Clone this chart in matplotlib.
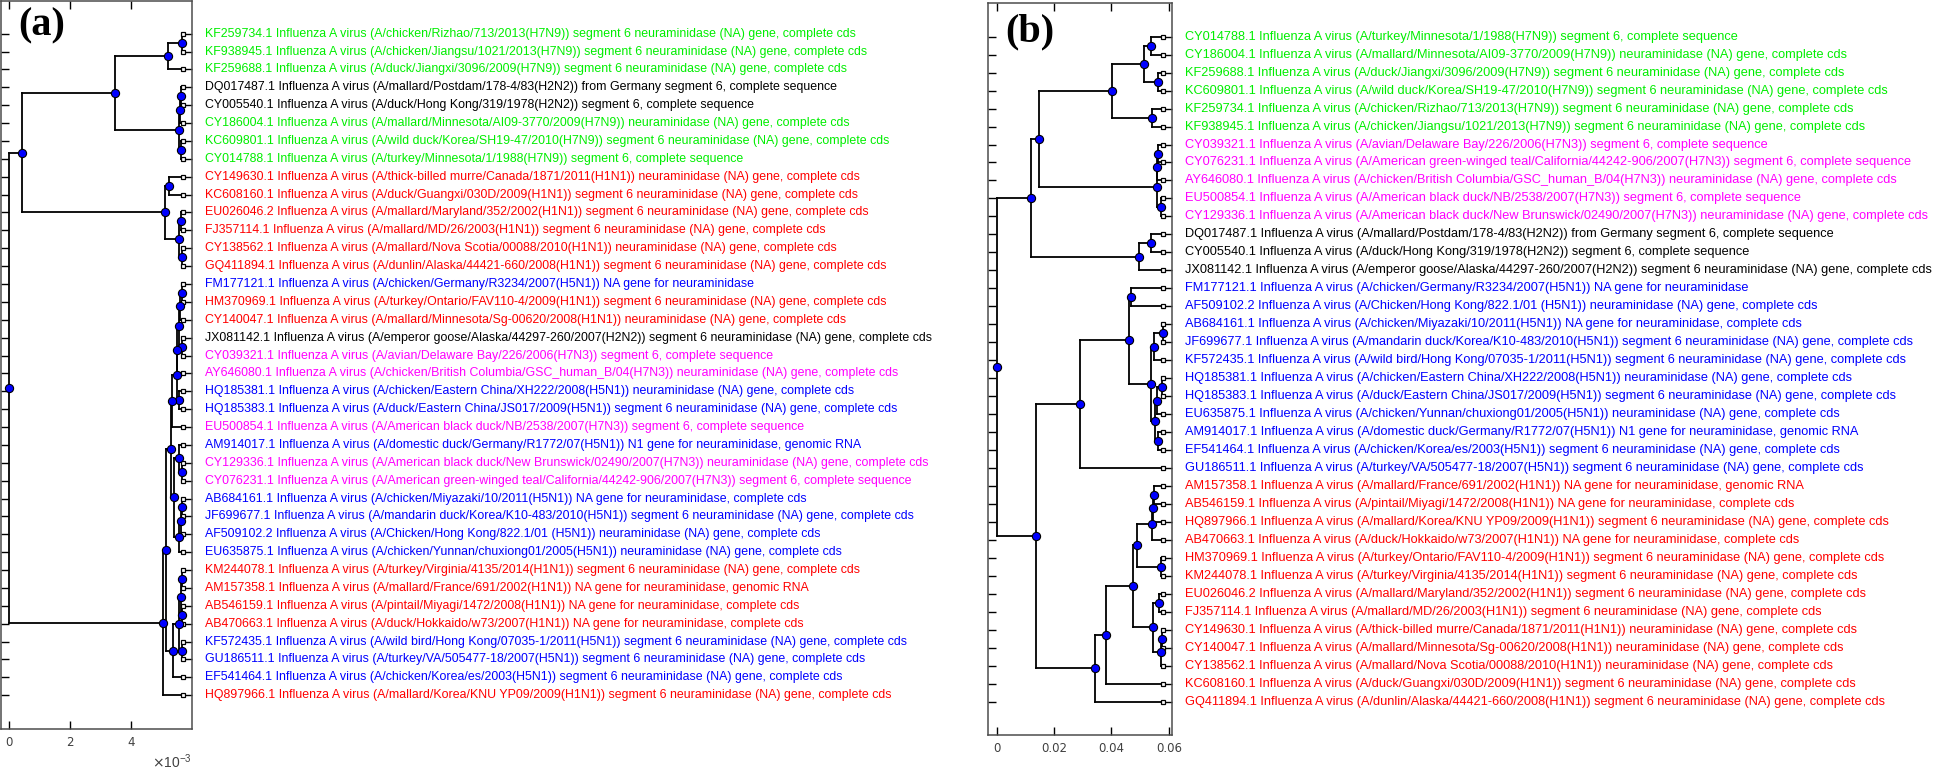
import re
import matplotlib
matplotlib.use('Agg')
import matplotlib.pyplot as plt

# sequence labels (accession -> text shown next to the leaf)
descriptions = {
    'KF259734.1': 'KF259734.1 Influenza A virus (A/chicken/Rizhao/713/2013(H7N9)) segment 6 neuraminidase (NA) gene, complete cds',
    'KF938945.1': 'KF938945.1 Influenza A virus (A/chicken/Jiangsu/1021/2013(H7N9)) segment 6 neuraminidase (NA) gene, complete cds',
    'KF259688.1': 'KF259688.1 Influenza A virus (A/duck/Jiangxi/3096/2009(H7N9)) segment 6 neuraminidase (NA) gene, complete cds',
    'DQ017487.1': 'DQ017487.1 Influenza A virus (A/mallard/Postdam/178-4/83(H2N2)) from Germany segment 6, complete sequence',
    'CY005540.1': 'CY005540.1 Influenza A virus (A/duck/Hong Kong/319/1978(H2N2)) segment 6, complete sequence',
    'CY186004.1': 'CY186004.1 Influenza A virus (A/mallard/Minnesota/AI09-3770/2009(H7N9)) neuraminidase (NA) gene, complete cds',
    'KC609801.1': 'KC609801.1 Influenza A virus (A/wild duck/Korea/SH19-47/2010(H7N9)) segment 6 neuraminidase (NA) gene, complete cds',
    'CY014788.1': 'CY014788.1 Influenza A virus (A/turkey/Minnesota/1/1988(H7N9)) segment 6, complete sequence',
    'CY149630.1': 'CY149630.1 Influenza A virus (A/thick-billed murre/Canada/1871/2011(H1N1)) neuraminidase (NA) gene, complete cds',
    'KC608160.1': 'KC608160.1 Influenza A virus (A/duck/Guangxi/030D/2009(H1N1)) segment 6 neuraminidase (NA) gene, complete cds',
    'EU026046.2': 'EU026046.2 Influenza A virus (A/mallard/Maryland/352/2002(H1N1)) segment 6 neuraminidase (NA) gene, complete cds',
    'FJ357114.1': 'FJ357114.1 Influenza A virus (A/mallard/MD/26/2003(H1N1)) segment 6 neuraminidase (NA) gene, complete cds',
    'CY138562.1': 'CY138562.1 Influenza A virus (A/mallard/Nova Scotia/00088/2010(H1N1)) neuraminidase (NA) gene, complete cds',
    'GQ411894.1': 'GQ411894.1 Influenza A virus (A/dunlin/Alaska/44421-660/2008(H1N1)) segment 6 neuraminidase (NA) gene, complete cds',
    'FM177121.1': 'FM177121.1 Influenza A virus (A/chicken/Germany/R3234/2007(H5N1)) NA gene for neuraminidase',
    'HM370969.1': 'HM370969.1 Influenza A virus (A/turkey/Ontario/FAV110-4/2009(H1N1)) segment 6 neuraminidase (NA) gene, complete cds',
    'CY140047.1': 'CY140047.1 Influenza A virus (A/mallard/Minnesota/Sg-00620/2008(H1N1)) neuraminidase (NA) gene, complete cds',
    'JX081142.1': 'JX081142.1 Influenza A virus (A/emperor goose/Alaska/44297-260/2007(H2N2)) segment 6 neuraminidase (NA) gene, complete cds',
    'CY039321.1': 'CY039321.1 Influenza A virus (A/avian/Delaware Bay/226/2006(H7N3)) segment 6, complete sequence',
    'AY646080.1': 'AY646080.1 Influenza A virus (A/chicken/British Columbia/GSC_human_B/04(H7N3)) neuraminidase (NA) gene, complete cds',
    'HQ185381.1': 'HQ185381.1 Influenza A virus (A/chicken/Eastern China/XH222/2008(H5N1)) neuraminidase (NA) gene, complete cds',
    'HQ185383.1': 'HQ185383.1 Influenza A virus (A/duck/Eastern China/JS017/2009(H5N1)) segment 6 neuraminidase (NA) gene, complete cds',
    'EU500854.1': 'EU500854.1 Influenza A virus (A/American black duck/NB/2538/2007(H7N3)) segment 6, complete sequence',
    'AM914017.1': 'AM914017.1 Influenza A virus (A/domestic duck/Germany/R1772/07(H5N1)) N1 gene for neuraminidase, genomic RNA',
    'CY129336.1': 'CY129336.1 Influenza A virus (A/American black duck/New Brunswick/02490/2007(H7N3)) neuraminidase (NA) gene, complete cds',
    'CY076231.1': 'CY076231.1 Influenza A virus (A/American green-winged teal/California/44242-906/2007(H7N3)) segment 6, complete sequence',
    'AB684161.1': 'AB684161.1 Influenza A virus (A/chicken/Miyazaki/10/2011(H5N1)) NA gene for neuraminidase, complete cds',
    'JF699677.1': 'JF699677.1 Influenza A virus (A/mandarin duck/Korea/K10-483/2010(H5N1)) segment 6 neuraminidase (NA) gene, complete cds',
    'AF509102.2': 'AF509102.2 Influenza A virus (A/Chicken/Hong Kong/822.1/01 (H5N1)) neuraminidase (NA) gene, complete cds',
    'EU635875.1': 'EU635875.1 Influenza A virus (A/chicken/Yunnan/chuxiong01/2005(H5N1)) neuraminidase (NA) gene, complete cds',
    'KM244078.1': 'KM244078.1 Influenza A virus (A/turkey/Virginia/4135/2014(H1N1)) segment 6 neuraminidase (NA) gene, complete cds',
    'AM157358.1': 'AM157358.1 Influenza A virus (A/mallard/France/691/2002(H1N1)) NA gene for neuraminidase, genomic RNA',
    'AB546159.1': 'AB546159.1 Influenza A virus (A/pintail/Miyagi/1472/2008(H1N1)) NA gene for neuraminidase, complete cds',
    'AB470663.1': 'AB470663.1 Influenza A virus (A/duck/Hokkaido/w73/2007(H1N1)) NA gene for neuraminidase, complete cds',
    'KF572435.1': 'KF572435.1 Influenza A virus (A/wild bird/Hong Kong/07035-1/2011(H5N1)) segment 6 neuraminidase (NA) gene, complete cds',
    'GU186511.1': 'GU186511.1 Influenza A virus (A/turkey/VA/505477-18/2007(H5N1)) segment 6 neuraminidase (NA) gene, complete cds',
    'EF541464.1': 'EF541464.1 Influenza A virus (A/chicken/Korea/es/2003(H5N1)) segment 6 neuraminidase (NA) gene, complete cds',
    'HQ897966.1': 'HQ897966.1 Influenza A virus (A/mallard/Korea/KNU YP09/2009(H1N1)) segment 6 neuraminidase (NA) gene, complete cds',
}

# leaf order, top to bottom
order_a = ['KF259734.1', 'KF938945.1', 'KF259688.1', 'DQ017487.1', 'CY005540.1', 'CY186004.1',
           'KC609801.1', 'CY014788.1', 'CY149630.1', 'KC608160.1', 'EU026046.2', 'FJ357114.1',
           'CY138562.1', 'GQ411894.1', 'FM177121.1', 'HM370969.1', 'CY140047.1', 'JX081142.1',
           'CY039321.1', 'AY646080.1', 'HQ185381.1', 'HQ185383.1', 'EU500854.1', 'AM914017.1',
           'CY129336.1', 'CY076231.1', 'AB684161.1', 'JF699677.1', 'AF509102.2', 'EU635875.1',
           'KM244078.1', 'AM157358.1', 'AB546159.1', 'AB470663.1', 'KF572435.1', 'GU186511.1',
           'EF541464.1', 'HQ897966.1']
order_b = ['CY014788.1', 'CY186004.1', 'KF259688.1', 'KC609801.1', 'KF259734.1', 'KF938945.1',
           'CY039321.1', 'CY076231.1', 'AY646080.1', 'EU500854.1', 'CY129336.1', 'DQ017487.1',
           'CY005540.1', 'JX081142.1', 'FM177121.1', 'AF509102.2', 'AB684161.1', 'JF699677.1',
           'KF572435.1', 'HQ185381.1', 'HQ185383.1', 'EU635875.1', 'AM914017.1', 'EF541464.1',
           'GU186511.1', 'AM157358.1', 'AB546159.1', 'HQ897966.1', 'AB470663.1', 'HM370969.1',
           'KM244078.1', 'EU026046.2', 'FJ357114.1', 'CY149630.1', 'CY140047.1', 'CY138562.1',
           'KC608160.1', 'GQ411894.1']

# trees: [distance from root, child, child]; ints are leaf rows (0 = top)
tree_a = [0.0,
          [0.42e-3,
           [3.48e-3,
            [5.22e-3, [5.66e-3, 0, 1], 2],
            [5.57e-3, [5.61e-3, [5.64e-3, 3, 4], 5], [5.64e-3, 6, 7]]],
           [5.11e-3,
            [5.26e-3, 8, 9],
            [5.57e-3, [5.64e-3, 10, 11], [5.66e-3, 12, 13]]]],
          [5.06e-3,
           [5.15e-3,
            [5.30e-3,
             [5.34e-3,
              [5.50e-3,
               [5.52e-3,
                [5.58e-3, [5.61e-3, [5.66e-3, 14, 15], 16], [5.68e-3, 17, 18]],
                19],
               [5.58e-3, 20, 21]],
              22],
             [5.41e-3,
              [5.58e-3, 23, [5.68e-3, 24, 25]],
              [5.58e-3, [5.63e-3, [5.66e-3, 26, 27], 28], 29]]],
            [5.39e-3,
             [5.58e-3, [5.63e-3, [5.66e-3, 30, 31], [5.68e-3, 32, 33]], [5.66e-3, 34, 35]],
             36]],
           37]]
leaf_x_a = 5.69e-3

tree_b = [0.0,
          [0.01195,
           [0.01485,
            [0.0401,
             [0.0513, [0.0537, 0, 1], [0.0563, 2, 3]],
             [0.0542, 4, 5]],
            [0.0557,
             [0.0557, [0.0563, 6, 7], 8],
             [0.0571, 9, 10]]],
           [0.0497, [0.0539, 11, 12], 13]],
          [0.0137,
           [0.0292,
            [0.0462,
             [0.0467, 14, 15],
             [0.0538,
              [0.0547, [0.0578, 16, 17], 18],
              [0.0552,
               [0.0559, [0.0575, 19, 20], 21],
               [0.0563, 22, 23]]]],
            24],
           [0.0343,
            [0.0382,
             [0.0474,
              [0.0488,
               [0.0542, [0.0545, [0.0547, 25, 26], 27], 28],
               [0.0571, 29, 30]],
              [0.0546,
               [0.0567, 31, 32],
               [0.0572, [0.0576, 33, 34], 35]]],
             36],
            37]]]
leaf_x_b = 0.058

subtype_colors = {'H7N9': '#00ee00', 'H2N2': 'black', 'H1N1': '#ff0000',
                  'H5N1': '#0000ff', 'H7N3': '#ff00ff'}


def draw_tree(ax, node, leaf_x):
    if isinstance(node, int):
        y = node + 1
        ax.plot(leaf_x, y, 's', ms=3.5, mfc='white', mec='black', mew=0.9, zorder=4)
        return leaf_x, y
    dist = node[0]
    kids = [draw_tree(ax, c, leaf_x) for c in node[1:]]
    ys = [k[1] for k in kids]
    y = sum(ys) / len(ys)
    ax.plot([dist, dist], [min(ys), max(ys)], color='black', lw=1.3, zorder=2)
    for kx, ky in kids:
        ax.plot([dist, kx], [ky, ky], color='black', lw=1.3, zorder=2)
    ax.plot(dist, y, 'o', ms=5.9, mfc='#0000ff', mec='black', mew=0.8, zorder=5)
    return dist, y


def style_axes(ax, n):
    ax.set_yticks(range(1, n + 1))
    ax.set_yticklabels([])
    ax.tick_params(direction='in', length=5.5, width=1.0, top=True, right=True,
                   labelsize=8.5, labelcolor='0.25', pad=5)
    for s in ax.spines.values():
        s.set_color('0.3')
        s.set_linewidth(1.1)


fig = plt.figure(figsize=(19.46, 7.71), dpi=100)
W, H = 1946.0, 771.0

# panel (a)
ax1 = fig.add_axes([0.7 / W, 1 - 729 / H, (191.7 - 0.7) / W, (729 - 0.7) / H])
draw_tree(ax1, tree_a, leaf_x_a)
ax1.set_xlim(-0.272e-3, 5.99e-3)
ax1.set_ylim(39.89, -0.846)
style_axes(ax1, len(order_a))
ax1.set_xticks([0, 2e-3, 4e-3])
ax1.set_xticklabels(['0', '2', '4'])
ax1.text(0.09, 0.991, '(a)', transform=ax1.transAxes, ha='left', va='top',
         family='Liberation Serif', fontweight='bold', fontsize=29)
fig.text(192 / W, 0.0, r'$\times\mathregular{10^{-3}}$', ha='right', va='bottom',
         fontsize=10, color='0.25', family='Liberation Sans')

# panel (b)
ax2 = fig.add_axes([988.3 / W, 1 - 735 / H, (1172.3 - 988.3) / W, (735 - 2.7) / H])
draw_tree(ax2, tree_b, leaf_x_b)
ax2.set_xlim(-0.00293, 0.0612)
ax2.set_ylim(39.86, -0.892)
style_axes(ax2, len(order_b))
ax2.set_xticks([0, 0.02, 0.04, 0.06])
ax2.set_xticklabels(['0', '0.02', '0.04', '0.06'])
ax2.text(0.091, 0.986, '(b)', transform=ax2.transAxes, ha='left', va='top',
         family='Liberation Serif', fontweight='bold', fontsize=29)

for ax, order, fs in ((ax1, order_a, 8.9), (ax2, order_b, 9.15)):
    for i, acc in enumerate(order):
        sub = re.search(r'\((H\dN\d)\)', descriptions[acc]).group(1)
        ax.annotate(descriptions[acc], xy=(1, i + 1), xycoords=('axes fraction', 'data'),
                    xytext=(9.5, 0), textcoords='offset points', va='center', ha='left',
                    fontsize=fs, family='Liberation Sans', color=subtype_colors[sub],
                    annotation_clip=False)

fig.savefig('out.png', dpi=100)
